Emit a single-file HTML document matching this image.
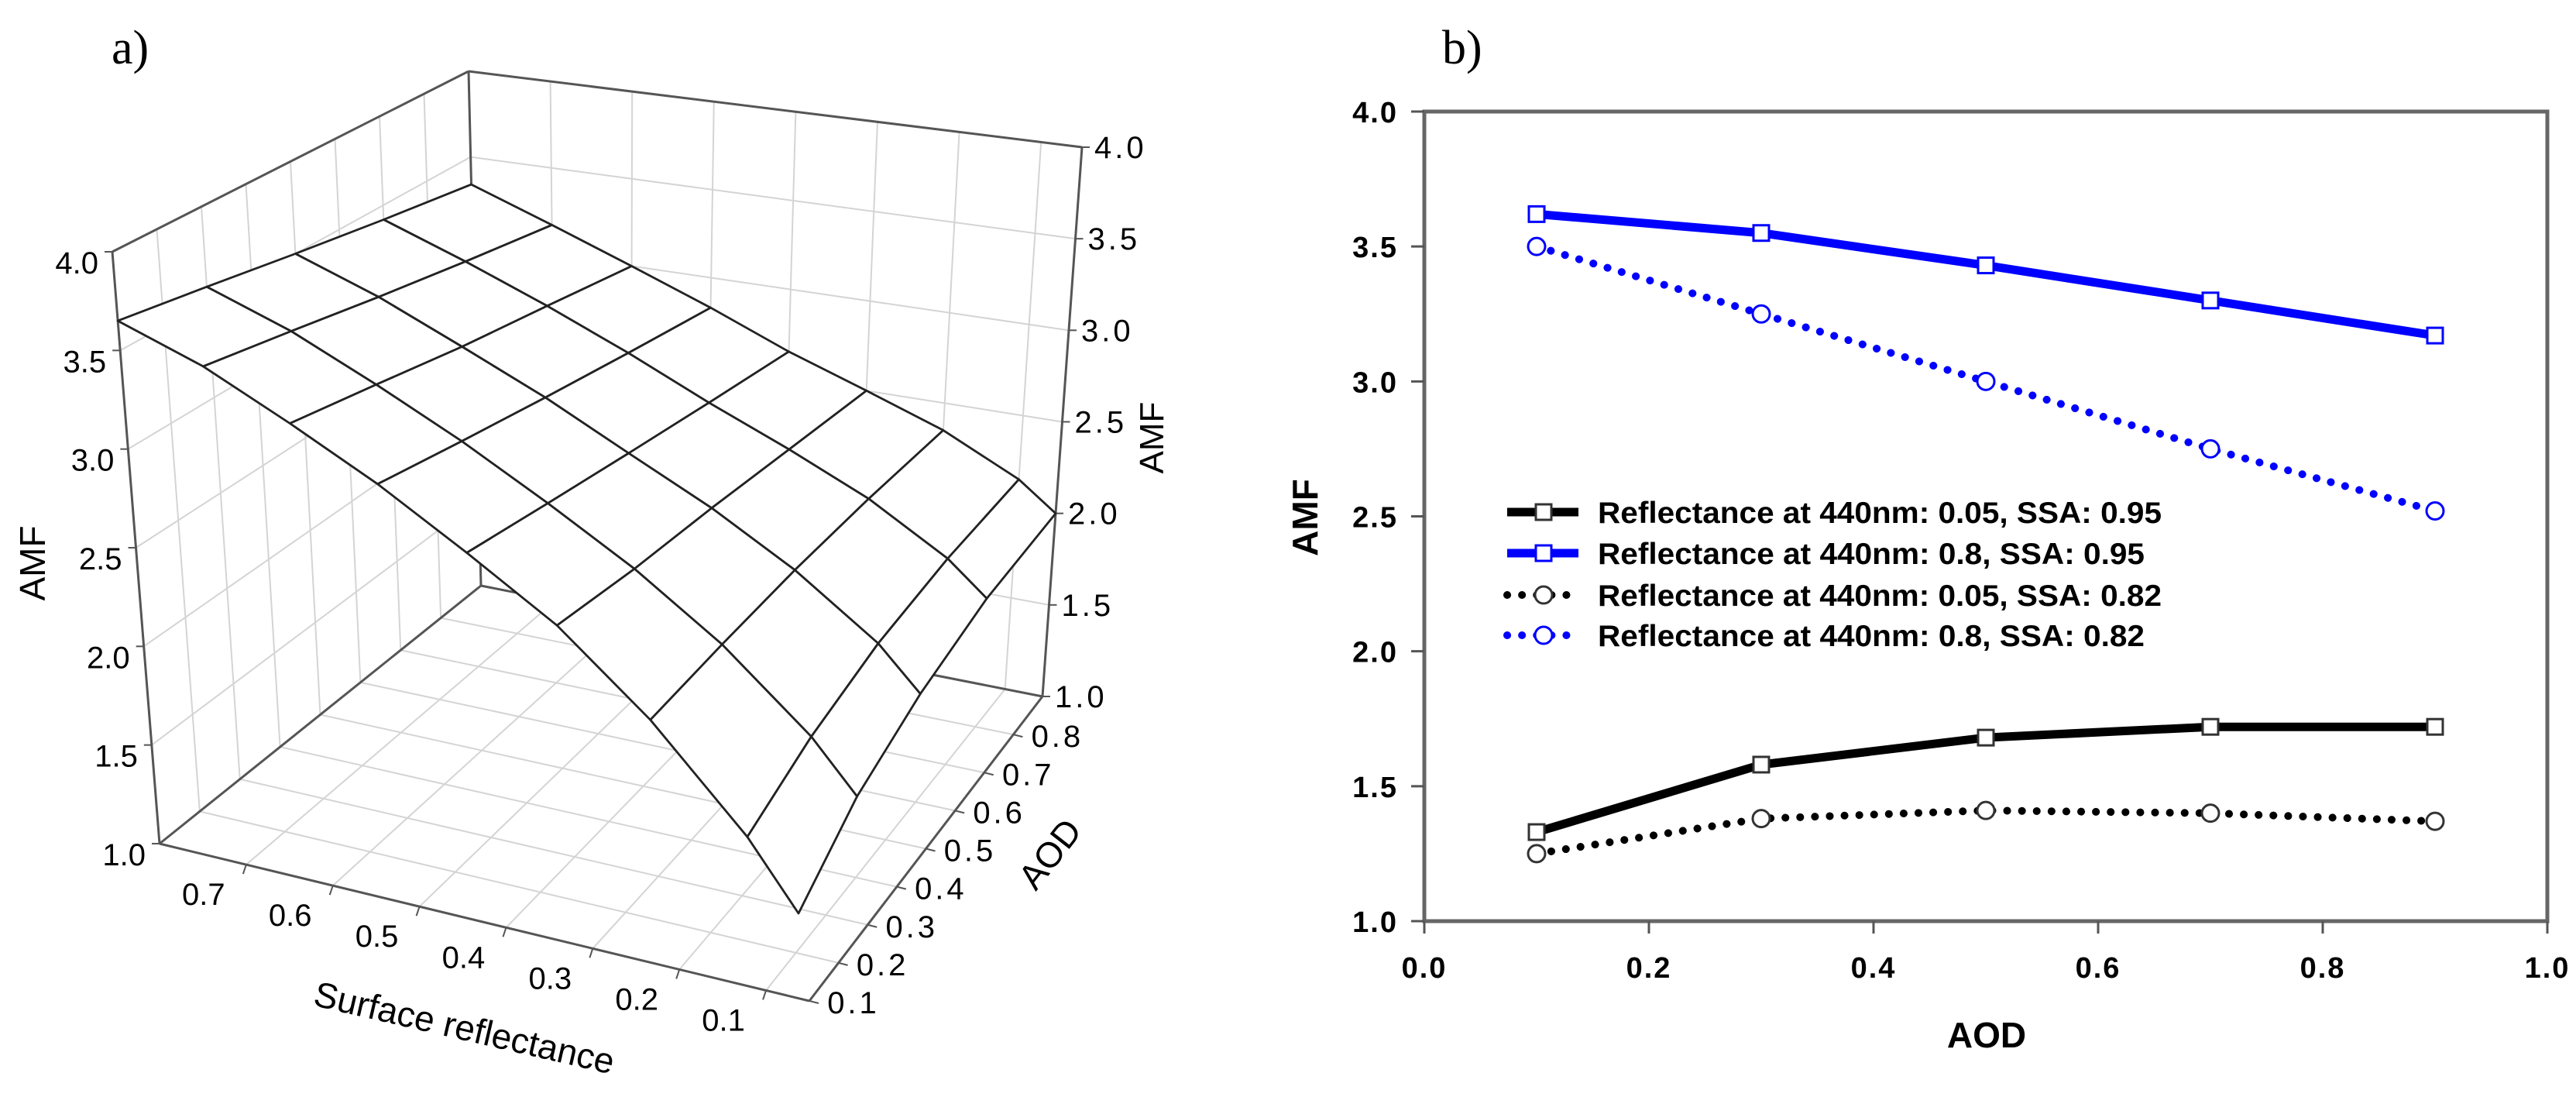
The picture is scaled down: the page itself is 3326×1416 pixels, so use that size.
<!DOCTYPE html>
<html><head><meta charset="utf-8">
<style>
html,body{margin:0;padding:0;background:#fff;}
svg{display:block;font-family:"Liberation Sans",Arial,sans-serif;}
</style></head>
<body>
<svg id="fig" width="3326" height="1416" viewBox="0 0 3326 1416" xmlns="http://www.w3.org/2000/svg">
<rect width="3326" height="1416" fill="#fff"/>
<text x="144" y="82" font-family="Liberation Serif, serif" font-size="62" fill="#000">a)</text>
<text x="1862" y="82" font-family="Liberation Serif, serif" font-size="62" fill="#000">b)</text>
<g id="pa"></g>
<g id="pb"></g>
</svg>
<script>
// ---------- Panel a data ----------
const reflValues = [0.8, 0.7, 0.6, 0.5, 0.4, 0.3, 0.2, 0.1, 0.05];
const aodValues = [0.1, 0.3, 0.5, 0.7, 0.9];
const amfAod01 = [3.65, 3.48, 3.26, 3.03, 2.77, 2.50, 2.14, 1.69, 1.39];
const amfAod03 = [3.58, 3.41, 3.20, 2.98, 2.74, 2.49, 2.20, 1.84, 1.60];
const amfAod05 = [3.50, 3.33, 3.13, 2.93, 2.71, 2.50, 2.26, 1.97, 1.76];
const amfAod07 = [3.42, 3.25, 3.07, 2.88, 2.68, 2.50, 2.31, 2.07, 1.90];
const amfAod09 = [3.34, 3.17, 3.00, 2.83, 2.65, 2.50, 2.35, 2.15, 2.00];
const zTicks = [1.0, 1.5, 2.0, 2.5, 3.0, 3.5, 4.0];
const zTickLabels = ["1.0", "1.5", "2.0", "2.5", "3.0", "3.5", "4.0"];
const reflTicks = [0.7, 0.6, 0.5, 0.4, 0.3, 0.2, 0.1];
const reflTickLabels = ["0.7", "0.6", "0.5", "0.4", "0.3", "0.2", "0.1"];
const aodTicks = [0.1, 0.2, 0.3, 0.4, 0.5, 0.6, 0.7, 0.8];
const aodTickLabels = ["0.1", "0.2", "0.3", "0.4", "0.5", "0.6", "0.7", "0.8"];

// ---------- Panel b data ----------
const aodX = [0.1, 0.3, 0.5, 0.7, 0.9];
const blackSolid = [1.33, 1.58, 1.68, 1.72, 1.72];
const blueSolid = [3.62, 3.55, 3.43, 3.30, 3.17];
const blackDotted = [1.25, 1.38, 1.41, 1.40, 1.37];
const blueDotted = [3.50, 3.25, 3.00, 2.75, 2.52];
const xTicksB = [0, 0.2, 0.4, 0.6, 0.8, 1.0];
const xTickLabelsB = ["0.0", "0.2", "0.4", "0.6", "0.8", "1.0"];
const yTicksB = [1.0, 1.5, 2.0, 2.5, 3.0, 3.5, 4.0];
const yTickLabelsB = ["1.0", "1.5", "2.0", "2.5", "3.0", "3.5", "4.0"];
const legendLabels = ["Reflectance at 440nm: 0.05, SSA: 0.95", "Reflectance at 440nm: 0.8, SSA: 0.95", "Reflectance at 440nm: 0.05, SSA: 0.82", "Reflectance at 440nm: 0.8, SSA: 0.82"];

const NS = "http://www.w3.org/2000/svg";
function mk(tag, attrs, parent) {
  const e = document.createElementNS(NS, tag);
  for (const k in attrs) e.setAttribute(k, attrs[k]);
  parent.appendChild(e);
  return e;
}

// ===== Panel a =====
const pa = document.getElementById("pa");
const FL = [206, 1089], FR = [1045, 1292], BL = [621, 756], BR = [1346, 899];
const FLt = [145, 325], FRt = [937, 423], BLt = [605, 92], BRt = [1397, 190];
function lerp(a, b, t) { return [a[0] + (b[0] - a[0]) * t, a[1] + (b[1] - a[1]) * t]; }
function bil(a, b, c, d, u, v) { return lerp(lerp(a, b, u), lerp(c, d, u), v); }
function uOf(r) { return (0.8 - r) / 0.75; }
function vOf(a) { return (a - 0.1) / 0.8; }
function P(r, a, z) {
  const u = uOf(r), v = vOf(a);
  const bot = bil(FL, FR, BL, BR, u, v), top = bil(FLt, FRt, BLt, BRt, u, v);
  return lerp(bot, top, (z - 1) / 3);
}
function line3(p, q, stroke, w, name) {
  const el = mk("line", { x1: p[0], y1: p[1], x2: q[0], y2: q[1], stroke: stroke, "stroke-width": w }, pa);
  
  
  return el;
}
const gridC = "#d4d4d4";
reflTicks.forEach(r => line3(P(r, 0.1, 1), P(r, 0.9, 1), gridC, 2, "floor-gridline"));
aodTicks.forEach(a => line3(P(0.8, a, 1), P(0.05, a, 1), gridC, 2, "floor-gridline"));
aodTicks.forEach(a => line3(P(0.8, a, 1), P(0.8, a, 4), gridC, 2, "left-wall-gridline"));
zTicks.slice(1, -1).forEach(z => line3(P(0.8, 0.1, z), P(0.8, 0.9, z), gridC, 2, "left-wall-gridline"));
reflTicks.forEach(r => line3(P(r, 0.9, 1), P(r, 0.9, 4), gridC, 2, "back-wall-gridline"));
zTicks.slice(1, -1).forEach(z => line3(P(0.8, 0.9, z), P(0.05, 0.9, z), gridC, 2, "back-wall-gridline"));
const edgeC = "#555";
[[FL, FLt], [BL, BLt], [BR, BRt], [FLt, BLt], [BLt, BRt], [FL, BL], [BL, BR], [FL, FR], [FR, BR]].forEach(e => line3(e[0], e[1], edgeC, 3, "box-edge"));
zTicks.forEach(z => { const p = P(0.8, 0.1, z); line3(p, [p[0] - 10, p[1]], edgeC, 2, "z-tick-left"); });
zTicks.forEach(z => { const p = P(0.05, 0.9, z); line3(p, [p[0] + 10, p[1]], edgeC, 2, "z-tick-right"); });
reflTicks.forEach(r => { const p = P(r, 0.1, 1); line3(p, [p[0] - 4, p[1] + 12], edgeC, 2, "refl-tick"); });
aodTicks.forEach(a => { const p = P(0.05, a, 1); line3(p, [p[0] + 12, p[1] + 3], edgeC, 2, "aod-tick"); });

const amfRows = [amfAod01, amfAod03, amfAod05, amfAod07, amfAod09];
const quads = [];
for (let ai = 0; ai < aodValues.length - 1; ai++) {
  for (let ri = 0; ri < reflValues.length - 1; ri++) {
    quads.push({ ai: ai, ri: ri, key: (reflValues.length - 2 - ri) + ai });
  }
}
quads.sort((a, b) => b.key - a.key);
quads.forEach(q => {
  const pts = [
    P(reflValues[q.ri], aodValues[q.ai], amfRows[q.ai][q.ri]),
    P(reflValues[q.ri + 1], aodValues[q.ai], amfRows[q.ai][q.ri + 1]),
    P(reflValues[q.ri + 1], aodValues[q.ai + 1], amfRows[q.ai + 1][q.ri + 1]),
    P(reflValues[q.ri], aodValues[q.ai + 1], amfRows[q.ai + 1][q.ri])
  ];
  const el = mk("polygon", { points: pts.map(p => p[0].toFixed(1) + "," + p[1].toFixed(1)).join(" "), fill: "#fff", stroke: "#222", "stroke-width": 2.8, "stroke-linejoin": "round" }, pa);
  
  
});

function txt(parent, x, y, s, attrs, name) {
  const el = mk("text", Object.assign({ x: x, y: y }, attrs), parent);
  el.textContent = s;
  
  
  return el;
}
zTicks.forEach((z, i) => { const p = P(0.8, 0.1, z); txt(pa, p[0] - 18, p[1] + 28, zTickLabels[i], { "font-size": 40, "text-anchor": "end" }, "z-tick-label-left"); });
zTicks.forEach((z, i) => { const p = P(0.05, 0.9, z); txt(pa, p[0] + 16, p[1] + 14, zTickLabels[i], { "font-size": 40, "text-anchor": "start", "letter-spacing": 4 }, "z-tick-label-right"); });
reflTicks.forEach((r, i) => { const p = P(r, 0.1, 1); txt(pa, p[0] - 55, p[1] + 52, reflTickLabels[i], { "font-size": 40, "text-anchor": "middle" }, "refl-tick-label"); });
aodTicks.forEach((a, i) => { const p = P(0.05, a, 1); txt(pa, p[0] + 57, p[1] + 16, aodTickLabels[i], { "font-size": 40, "text-anchor": "middle", "letter-spacing": 4 }, "aod-tick-label"); });
txt(pa, 0, 0, "AMF", { "font-size": 46, "text-anchor": "middle", transform: "translate(58,727) rotate(-90)" }, "z-axis-title-left");
txt(pa, 0, 0, "AMF", { "font-size": 44, "text-anchor": "middle", transform: "translate(1502,565) rotate(-90)" }, "z-axis-title-right");
txt(pa, 0, 0, "Surface reflectance", { "font-size": 46, "text-anchor": "middle", transform: "translate(596,1342) rotate(13)" }, "refl-axis-title");
txt(pa, 0, 0, "AOD", { "font-size": 46, "text-anchor": "middle", transform: "translate(1368,1112) rotate(-52)" }, "aod-axis-title");

// ===== Panel b =====
const pb = document.getElementById("pb");
const X0 = 1839, X1 = 3289, Y0 = 1189, Y1 = 144;
function xs(v) { return X0 + (X1 - X0) * v; }
function ys(v) { return Y0 - (Y0 - Y1) * (v - 1) / 3; }
let el;
el = mk("rect", { x: X0, y: Y1, width: X1 - X0, height: Y0 - Y1, fill: "none", stroke: "#666", "stroke-width": 5 }, pb);


xTicksB.forEach((t, i) => {
  const l = mk("line", { x1: xs(t), y1: Y0, x2: xs(t), y2: Y0 + 16, stroke: "#555", "stroke-width": 3 }, pb);
  
  
  txt(pb, xs(t), 1262, xTickLabelsB[i], { "font-size": 38, "font-weight": "bold", "text-anchor": "middle", "letter-spacing": 2 }, "x-tick-label");
});
yTicksB.forEach((t, i) => {
  const l = mk("line", { x1: X0 - 17, y1: ys(t), x2: X0, y2: ys(t), stroke: "#555", "stroke-width": 3 }, pb);
  
  
  txt(pb, 1805, ys(t) + 14, yTickLabelsB[i], { "font-size": 38, "font-weight": "bold", "text-anchor": "end", "letter-spacing": 2 }, "y-tick-label");
});
txt(pb, 2565, 1352, "AOD", { "font-size": 46, "font-weight": "bold", "text-anchor": "middle" }, "x-axis-title");
txt(pb, 0, 0, "AMF", { "font-size": 46, "font-weight": "bold", "text-anchor": "middle", transform: "translate(1701,668) rotate(-90)" }, "y-axis-title");

const series = [
  { vals: blackSolid, color: "#000", dotted: false, marker: "square", name: "series-black-solid" },
  { vals: blueSolid, color: "#0000ff", dotted: false, marker: "square", name: "series-blue-solid" },
  { vals: blackDotted, color: "#000", dotted: true, marker: "circle", name: "series-black-dotted" },
  { vals: blueDotted, color: "#0000ff", dotted: true, marker: "circle", name: "series-blue-dotted" }
];
function lineAttrs(s) {
  return s.dotted
    ? { fill: "none", stroke: s.color, "stroke-width": 10, "stroke-dasharray": "0.1 19", "stroke-linecap": "round" }
    : { fill: "none", stroke: s.color, "stroke-width": 11, "stroke-linejoin": "round" };
}
function marker(parent, s, x, y) {
  let m;
  if (s.marker === "square") m = mk("rect", { x: x - 10, y: y - 10, width: 20, height: 20, fill: "#fff", stroke: s.color === "#000" ? "#333" : s.color, "stroke-width": 3 }, parent);
  else m = mk("circle", { cx: x, cy: y, r: 11, fill: "#fff", stroke: s.color === "#000" ? "#333" : s.color, "stroke-width": 3 }, parent);
  
  
}
series.forEach(s => {
  const pl = mk("polyline", Object.assign({ points: s.vals.map((v, i) => xs(aodX[i]) + "," + ys(v)).join(" ") }, lineAttrs(s)), pb);
  
  
  s.vals.forEach((v, i) => marker(pb, s, xs(aodX[i]), ys(v)));
});
const legendY = [661, 714, 768, 820];
series.forEach((s, i) => {
  const g = mk("g", {}, pb);
  
  
  const l = mk("line", Object.assign({ x1: 1946, y1: legendY[i], x2: 2038, y2: legendY[i] }, lineAttrs(s)), g);
  
  
  marker(g, s, 1993, legendY[i]);
  const t = txt(g, 2063, legendY[i] + 14, legendLabels[i], { "font-size": 39, "font-weight": "bold" }, "legend-label");
  t.setAttribute("textLength", i % 2 === 0 ? 728 : 706);
  t.setAttribute("lengthAdjust", "spacingAndGlyphs");
});
</script>
</body></html>
